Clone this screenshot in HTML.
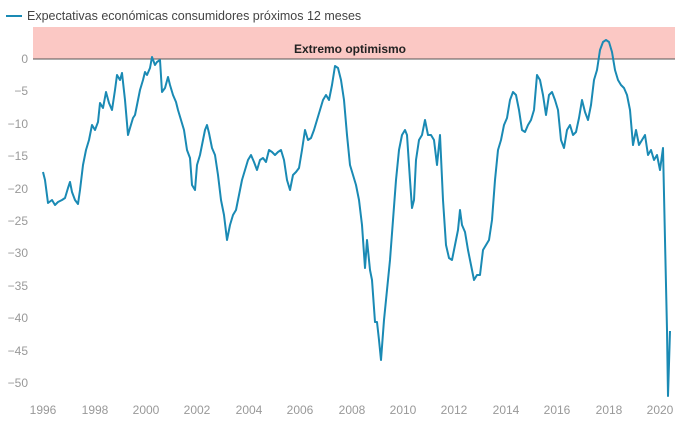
<!DOCTYPE html>
<html><head><meta charset="utf-8"><style>
body{margin:0;background:#fff;font-family:"Liberation Sans",sans-serif;}
</style></head><body>
<svg width="680" height="421" xmlns="http://www.w3.org/2000/svg" style="display:block">
<line x1="6" y1="16" x2="22" y2="16" stroke="#1a8ab4" stroke-width="2"/>
<text x="27" y="20" font-size="12.5" fill="#444">Expectativas económicas consumidores próximos 12 meses</text>
<rect x="33" y="27" width="642" height="32" fill="#fbc8c4"/>
<line x1="33" y1="59" x2="675" y2="59" stroke="#555" stroke-width="1"/>
<text x="350" y="53" font-size="12" font-weight="bold" fill="#222" text-anchor="middle">Extremo optimismo</text>
<g font-size="12" fill="#999" text-anchor="end">
<text x="28" y="63">0</text><text x="28" y="95">−5</text><text x="28" y="128">−10</text><text x="28" y="160">−15</text><text x="28" y="193">−20</text><text x="28" y="225">−25</text><text x="28" y="257">−30</text><text x="28" y="290">−35</text><text x="28" y="322">−40</text><text x="28" y="355">−45</text><text x="28" y="387">−50</text>
</g>
<g font-size="12" fill="#999" text-anchor="middle">
<text x="43" y="414">1996</text><text x="95" y="414">1998</text><text x="146" y="414">2000</text><text x="197" y="414">2002</text><text x="249" y="414">2004</text><text x="300" y="414">2006</text><text x="352" y="414">2008</text><text x="403" y="414">2010</text><text x="454" y="414">2012</text><text x="506" y="414">2014</text><text x="557" y="414">2016</text><text x="609" y="414">2018</text><text x="660" y="414">2020</text>
</g>
<polyline fill="none" stroke="#1a8ab4" stroke-width="2" stroke-linejoin="round" points="43,172 45,180 48,203 52,200 55,205 58,202 62,200 65,198 68,188 70,182 72,192 75,200 78,204 80,190 83,165 86,150 89,140 92,125 95,130 98,122 100,103 103,108 106,92 109,103 112,110 115,90 117,75 120,80 122,73 125,100 128,135 130,128 133,118 135,115 138,100 140,90 143,80 145,72 147,75 150,68 152,57 155,65 157,62 160,60 162,92 165,88 168,77 170,85 173,95 176,102 178,110 181,120 184,130 187,150 190,158 192,185 195,190 197,165 200,155 203,140 205,130 207,125 209,133 212,148 215,155 218,175 221,200 224,215 227,240 230,225 233,215 236,210 239,195 242,180 245,170 248,160 251,155 254,162 257,170 260,160 263,158 266,162 269,150 272,152 275,155 278,152 281,150 284,160 287,180 290,190 293,175 296,172 299,168 302,150 305,130 308,140 311,138 314,130 317,120 320,110 323,100 326,95 329,100 332,85 335,66 338,68 341,80 344,100 347,135 350,165 353,175 356,185 359,200 362,225 365,268 367,240 370,270 372,280 375,322 377,322 379,340 381,360 384,320 387,290 390,260 393,220 396,180 399,150 402,135 405,130 407,135 410,180 412,208 414,200 416,160 419,140 422,135 425,120 428,135 431,135 434,140 437,165 440,135 443,200 446,245 449,258 452,260 455,245 458,230 460,210 462,225 465,232 468,250 471,265 474,280 477,275 480,275 483,250 486,245 489,240 492,220 495,180 498,150 501,140 504,125 507,118 510,100 513,92 516,95 519,110 522,130 525,132 528,125 531,120 534,110 537,75 540,80 543,95 546,115 549,95 552,92 555,100 558,110 561,140 564,148 567,130 570,125 573,135 576,132 579,118 582,100 585,112 588,120 591,105 594,80 597,70 600,50 603,42 606,40 609,42 612,52 615,70 618,80 621,85 624,88 627,95 630,110 633,145 636,130 639,145 642,140 645,135 648,155 651,150 654,160 657,155 660,170 663,148 665,240 667,330 668,396 670,331"/>
</svg>
</body></html>
